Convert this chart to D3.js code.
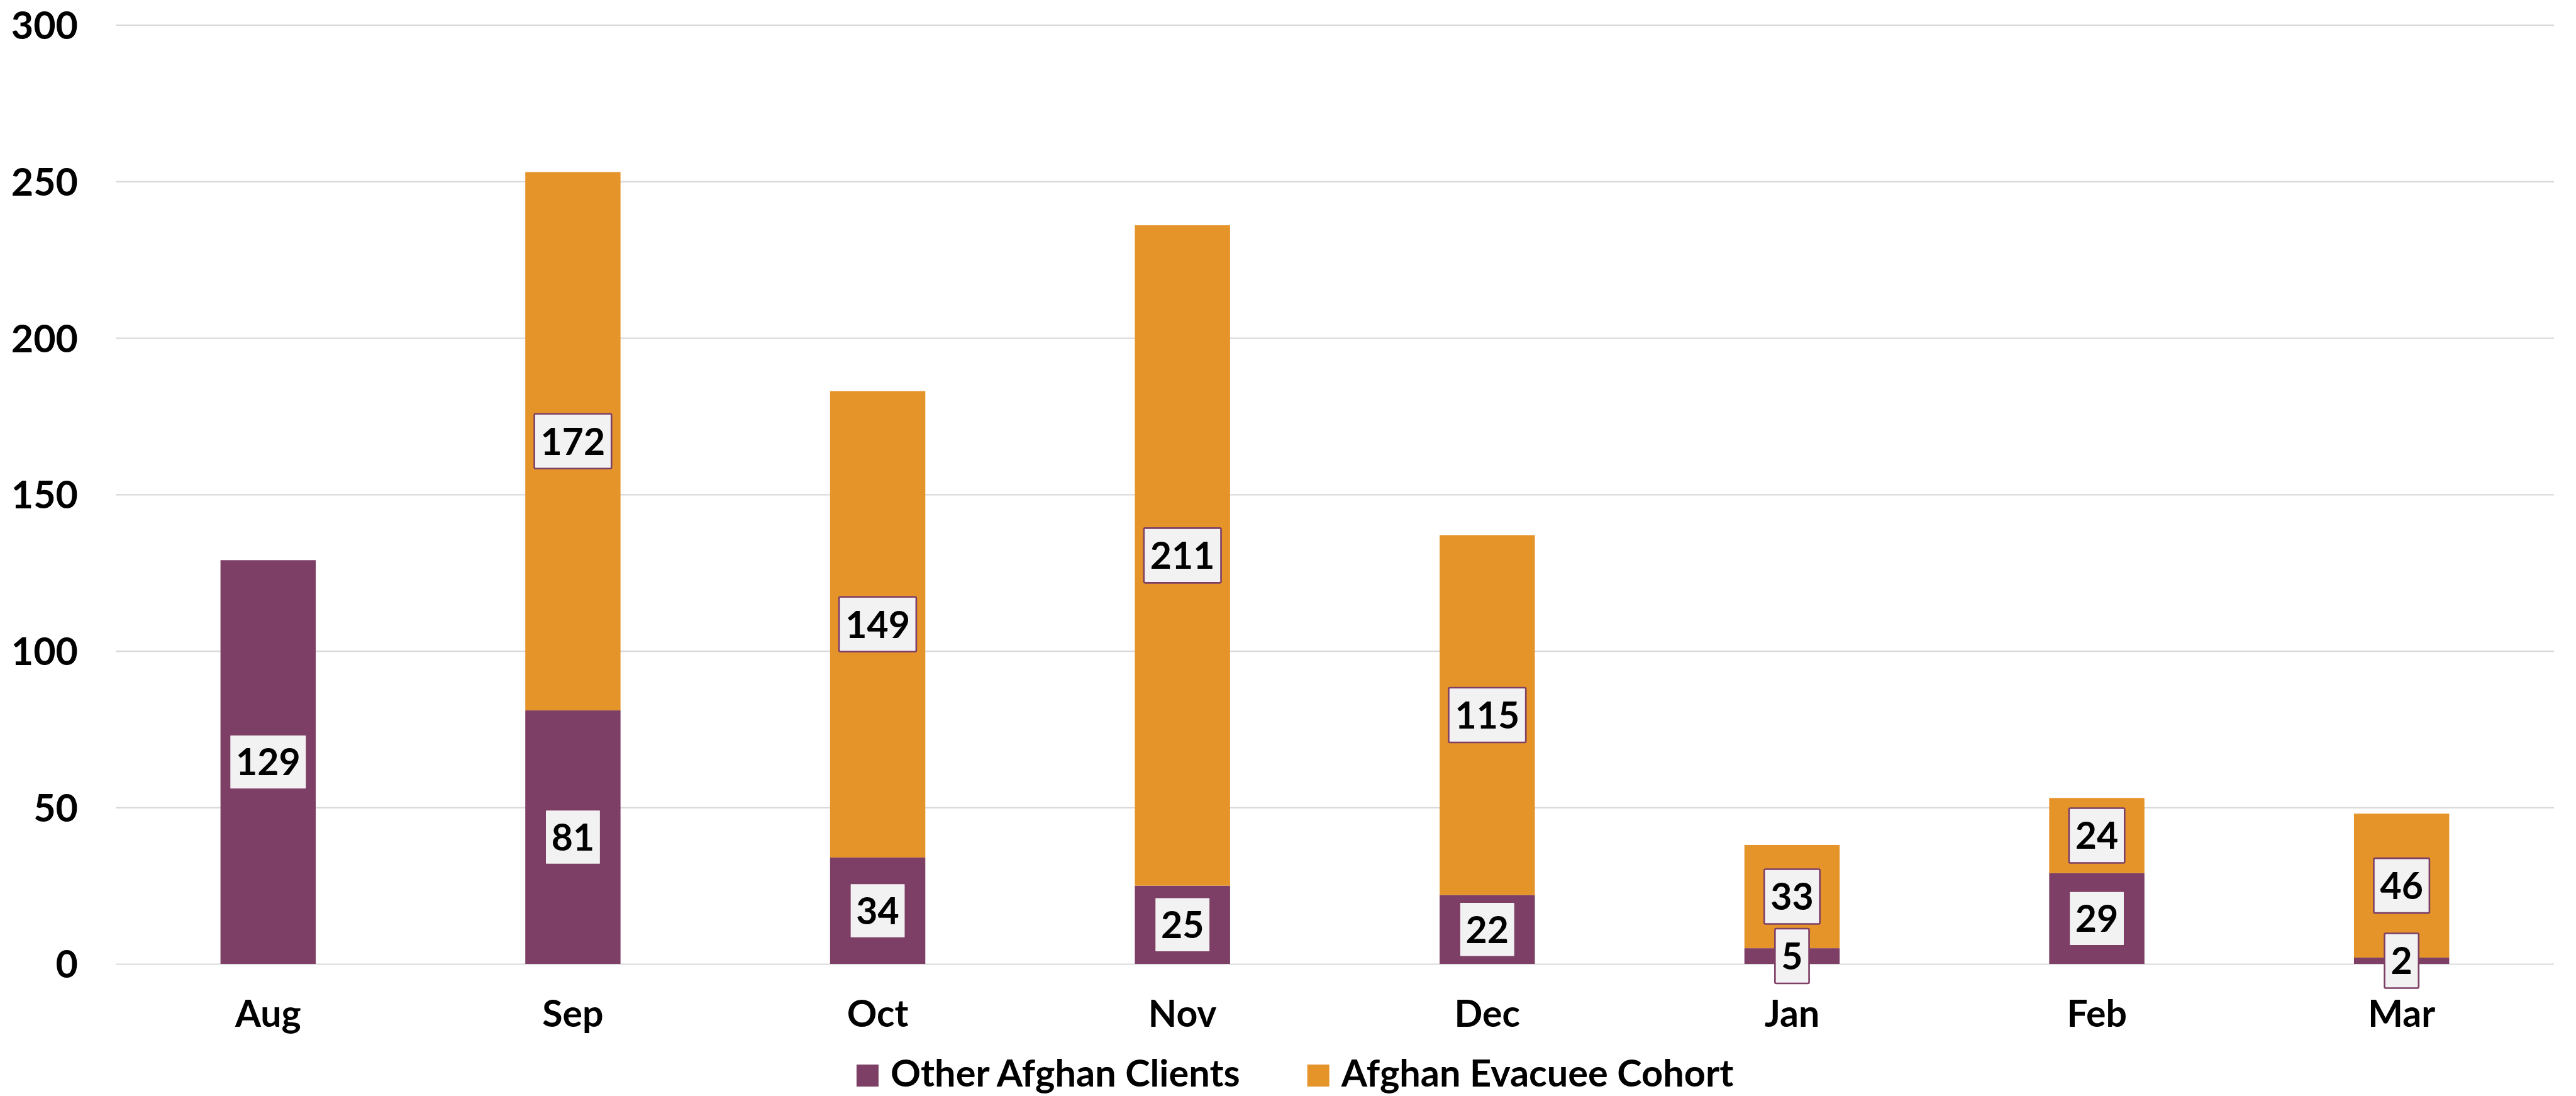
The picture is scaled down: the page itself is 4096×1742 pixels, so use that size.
<!DOCTYPE html>
<html>
<head>
<meta charset="utf-8">
<script src="https://cdn.jsdelivr.net/npm/d3@7"></script>
<style>
    html, body { margin: 0; padding: 0; background: #fff; }
    svg { display: block; font-family: Lato, "Open Sans", sans-serif; font-weight: 700; }
</style>
</head>
<body>
<div id="chart"></div>
<script>
// values
const months = ["Aug", "Sep", "Oct", "Nov", "Dec", "Jan", "Feb", "Mar"];
const otherClients = [129, 81, 34, 25, 22, 5, 29, 2];
const evacueeCohort = [null, 172, 149, 211, 115, 33, 24, 46];
const yTicks = [0, 50, 100, 150, 200, 250, 300];
const seriesNames = ["Other Afghan Clients", "Afghan Evacuee Cohort"];
const seriesColors = ["#7e3f66", "#e5942a"];

class StackedBarChart {
    constructor(parentElement) {
        this.parentElement = parentElement;
        this.initVis();
    }

    initVis() {
        let vis = this;

        vis.W = 4096;
        vis.H = 1742;
        vis.margin = {top: 39.7, right: 35, bottom: 210, left: 184};
        vis.width = 4061 - vis.margin.left;
        vis.height = 1532 - vis.margin.top;

        vis.svg = d3.select("#" + vis.parentElement).append("svg")
            .attr("width", vis.W)
            .attr("height", vis.H);

        vis.g = vis.svg.append("g")
            .attr("transform", `translate(${vis.margin.left}, ${vis.margin.top})`);

        vis.x = d3.scaleBand()
            .domain(months)
            .range([0, vis.width])
            .paddingInner(0.6875)
            .paddingOuter(0.34375);

        vis.y = d3.scaleLinear()
            .domain([0, 300])
            .range([vis.height, 0]);

        vis.wrangleData();
    }

    wrangleData() {
        let vis = this;

        vis.displayData = months.map((m, i) => ({
            month: m,
            other: otherClients[i],
            evac: evacueeCohort[i] == null ? 0 : evacueeCohort[i],
            evacRaw: evacueeCohort[i]
        }));

        vis.stacked = d3.stack().keys(["other", "evac"])(vis.displayData);

        vis.updateVis();
    }

    updateVis() {
        let vis = this;

        // gridlines + y labels
        let yAxis = d3.axisLeft(vis.y)
            .tickValues(yTicks)
            .tickSize(-vis.width)
            .tickPadding(60);

        let yg = vis.g.append("g").attr("class", "y-axis").call(yAxis);
        yg.select(".domain").remove();
        yg.selectAll(".tick line").attr("stroke", "#d9d9d9").attr("stroke-width", 2.2);
        yg.selectAll(".tick text")
            .attr("fill", "#000")
            .style("font-size", "61px")
            .style("font-family", "Lato, 'Open Sans', sans-serif")
            .style("font-weight", 700)
            .attr("dy", "0.36em");

        // bars
        vis.g.selectAll(".series")
            .data(vis.stacked)
            .enter()
            .append("g")
            .attr("class", "series")
            .attr("fill", (d, i) => seriesColors[i])
            .selectAll("rect")
            .data(d => d)
            .enter()
            .append("rect")
            .attr("x", d => vis.x(d.data.month))
            .attr("width", vis.x.bandwidth())
            .attr("y", d => vis.y(d[1]))
            .attr("height", d => vis.y(d[0]) - vis.y(d[1]));

        // x labels
        let xAxis = d3.axisBottom(vis.x).tickSize(0);
        let xg = vis.g.append("g")
            .attr("class", "x-axis")
            .attr("transform", `translate(0, ${vis.height})`)
            .call(xAxis);
        xg.select(".domain").remove();
        xg.selectAll(".tick text")
            .attr("fill", "#000")
            .attr("y", 100)
            .attr("dy", null)
            .style("font-size", "59px")
            .style("font-family", "Lato, 'Open Sans', sans-serif")
            .style("font-weight", 700);

        // data labels in boxes
        let labels = [];
        vis.stacked.forEach((s, si) => {
            s.forEach(d => {
                let v = si === 0 ? d.data.other : d.data.evacRaw;
                if (v == null) return;
                labels.push({month: d.data.month, value: v, mid: (d[0] + d[1]) / 2});
            });
        });

        let lab = vis.g.selectAll(".data-label")
            .data(labels)
            .enter()
            .append("g")
            .attr("class", "data-label")
            .attr("transform", d => `translate(${vis.x(d.month) + vis.x.bandwidth() / 2}, ${vis.y(d.mid)})`);

        lab.append("rect")
            .attr("fill", "#f2f2f2")
            .attr("stroke", "#7e3f66")
            .attr("stroke-width", 2.6)
            .attr("rx", 2);

        lab.append("text")
            .attr("text-anchor", "middle")
            .attr("dy", "0.36em")
            .style("font-size", "59px")
            .attr("fill", "#000")
            .text(d => d.value);

        lab.each(function() {
            let t = d3.select(this).select("text").node().getBBox();
            let w = t.width + 20;
            let h = 87;
            d3.select(this).select("rect")
                .attr("x", -w / 2)
                .attr("y", -h / 2)
                .attr("width", w)
                .attr("height", h);
        });

        // legend
        let legend = vis.svg.append("g").attr("class", "legend");
        let sq = 35, gap = 19, spacing = 107;
        let items = legend.selectAll(".item")
            .data(seriesNames)
            .enter()
            .append("g")
            .attr("class", "item");

        items.append("rect")
            .attr("width", sq)
            .attr("height", sq)
            .attr("y", -sq)
            .attr("fill", (d, i) => seriesColors[i]);

        items.append("text")
            .attr("x", sq + gap)
            .style("font-size", "59.5px")
            .attr("fill", "#000")
            .text(d => d);

        let offset = 0;
        items.each(function() {
            let tw = d3.select(this).select("text").node().getComputedTextLength();
            d3.select(this).attr("transform", `translate(${offset}, 0)`);
            offset += sq + gap + tw + spacing;
        });
        offset -= spacing;
        let cx = 2414 * 0.853;
        legend.attr("transform", `translate(${cx - offset / 2}, 1727)`);
    }
}

new StackedBarChart("chart");
</script>
</body>
</html>
